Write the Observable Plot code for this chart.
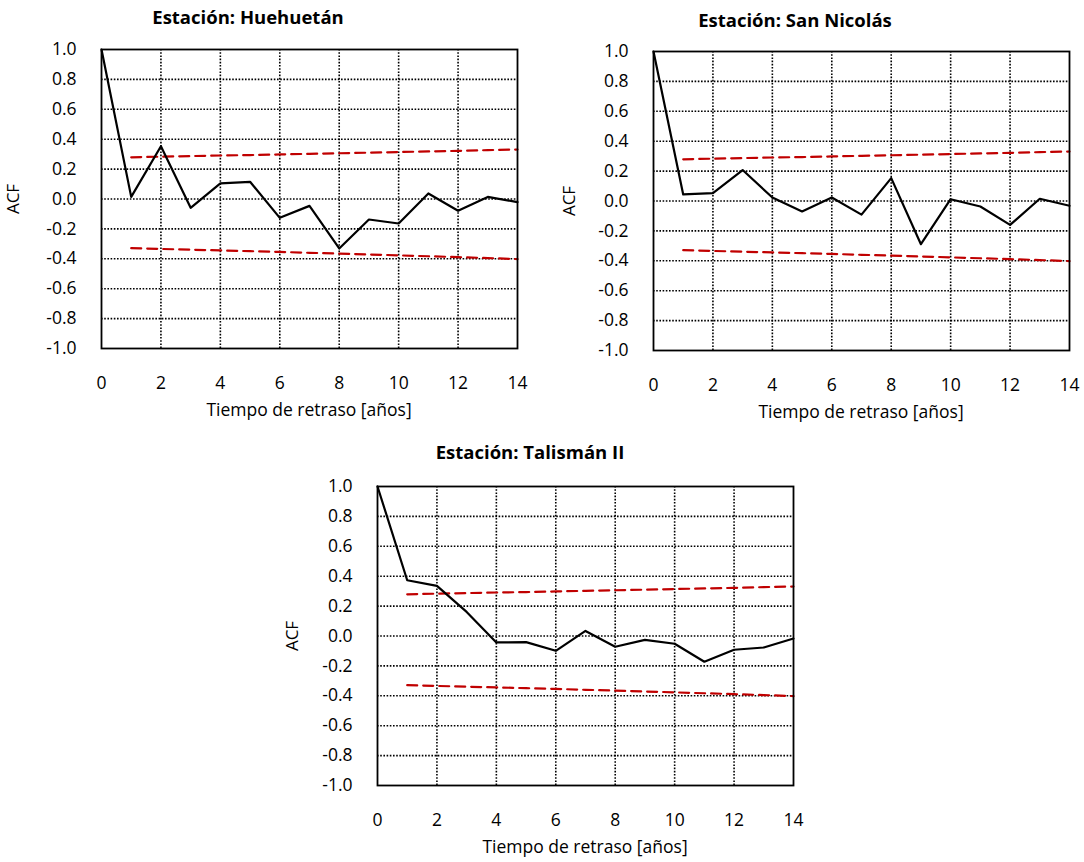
<!DOCTYPE html>
<html>
<head>
<meta charset="utf-8">
<script src="https://cdn.jsdelivr.net/npm/d3@7"></script>
<script src="https://cdn.jsdelivr.net/npm/@observablehq/plot@0.6"></script>
<style>
  body { margin: 0; background: #fff; }
  #wrap { position: relative; width: 1084px; height: 862px; font-family: "Open Sans", Lato, sans-serif; color: #000; }
  .panel { position: absolute; }
  #wrap svg text { font-family: "Open Sans", Lato, sans-serif; fill: #000; }
  .title { position: absolute; font-weight: bold; font-size: 18.5px; transform: translate(-50%, -50%); white-space: nowrap; }
  .xlab { position: absolute; font-size: 17.5px; transform: translate(-50%, -50%); white-space: nowrap; }
  .ylab { position: absolute; font-size: 17px; transform: translate(-50%, -50%) rotate(-90deg); white-space: nowrap; }
</style>
</head>
<body>
<div id="wrap"></div>
<script>
// Lags (years)
const lags = [0,1,2,3,4,5,6,7,8,9,10,11,12,13,14];
// ACF values per station
const acfHuehuetan = [1.0, 0.014, 0.353, -0.059, 0.104, 0.115, -0.126, -0.046, -0.331, -0.137, -0.164, 0.037, -0.079, 0.014, -0.021];
const acfSanNicolas = [1.0, 0.044, 0.053, 0.207, 0.023, -0.070, 0.023, -0.091, 0.153, -0.289, 0.012, -0.037, -0.160, 0.015, -0.032];
const acfTalisman = [1.0, 0.373, 0.335, 0.161, -0.043, -0.041, -0.099, 0.034, -0.072, -0.026, -0.052, -0.172, -0.092, -0.077, -0.017];
// Confidence limits (lags 1..14)
const limitLags = [1,2,3,4,5,6,7,8,9,10,11,12,13,14];
const upperLimit = [0.279, 0.283, 0.287, 0.291, 0.294, 0.298, 0.302, 0.306, 0.310, 0.314, 0.318, 0.322, 0.327, 0.331];
const lowerLimit = [-0.329, -0.334, -0.339, -0.344, -0.349, -0.354, -0.360, -0.365, -0.371, -0.377, -0.383, -0.389, -0.395, -0.402];
// Tick labels
const xTicks = [0,2,4,6,8,10,12,14];
const yTicks = [-1.0,-0.8,-0.6,-0.4,-0.2,0.0,0.2,0.4,0.6,0.8,1.0];

const stations = [
  {title: "Estación: Huehuetán", acf: acfHuehuetan, left: 0, top: 0, plotLeft: 101, titleX: 248, titleY: 16, ylabX: 12},
  {title: "Estación: San Nicolás", acf: acfSanNicolas, left: 544, top: 2, plotLeft: 109, titleX: 795, titleY: 19, ylabX: 568},
  {title: "Estación: Talismán II", acf: acfTalisman, left: 270, top: 437, plotLeft: 107, titleX: 530, titleY: 451, ylabX: 291}
];

const wrap = document.getElementById("wrap");
const W = 540, H = 420, PW = 416, PT = 49, PH = 299;

for (const s of stations) {
  const acfData = lags.map((l, i) => ({lag: l, v: s.acf[i]}));
  const upData = limitLags.map((l, i) => ({lag: l, v: upperLimit[i]}));
  const loData = limitLags.map((l, i) => ({lag: l, v: lowerLimit[i]}));
  const svg = Plot.plot({
    width: W, height: H,
    marginLeft: s.plotLeft, marginRight: W - s.plotLeft - PW,
    marginTop: PT, marginBottom: H - PT - PH,
    style: {fontFamily: "'Open Sans', Lato, sans-serif", fontSize: "17.5px", color: "#000", background: "transparent"},
    x: {domain: [0, 14]},
    y: {domain: [-1, 1]},
    marks: [
      Plot.ruleX(xTicks.filter(t => t > 0 && t < 14), {stroke: "#000", strokeWidth: 1.6, strokeDasharray: "1.6,1.6"}),
      Plot.ruleY(yTicks.filter(t => t > -1 && t < 1), {stroke: "#000", strokeWidth: 1.6, strokeDasharray: "1.6,1.6"}),
      Plot.axisX({ticks: xTicks, tickSize: 0, tickPadding: 28, tickFormat: d => String(d), label: null, fontSize: 17.5}),
      Plot.axisY({ticks: yTicks, tickSize: 0, tickPadding: 25, tickFormat: d => d.toFixed(1), label: null, fontSize: 17.5}),
      Plot.line(upData, {x: "lag", y: "v", stroke: "#c00000", strokeWidth: 2.2, strokeDasharray: "10,6"}),
      Plot.line(loData, {x: "lag", y: "v", stroke: "#c00000", strokeWidth: 2.2, strokeDasharray: "10,6"}),
      Plot.line(acfData, {x: "lag", y: "v", stroke: "#000", strokeWidth: 2.2}),
      Plot.frame({stroke: "#000", strokeWidth: 1.8})
    ]
  });
  svg.classList.add("panel");
  svg.style.left = s.left + "px";
  svg.style.top = s.top + "px";
  wrap.appendChild(svg);

  const t = document.createElement("div");
  t.className = "title"; t.textContent = s.title;
  t.style.left = s.titleX + "px"; t.style.top = s.titleY + "px";
  wrap.appendChild(t);

  const xl = document.createElement("div");
  xl.className = "xlab"; xl.textContent = "Tiempo de retraso [años]";
  xl.style.left = (s.left + s.plotLeft + PW / 2) + "px";
  xl.style.top = (s.top + PT + PH + 61) + "px";
  wrap.appendChild(xl);

  const yl = document.createElement("div");
  yl.className = "ylab"; yl.textContent = "ACF";
  yl.style.left = s.ylabX + "px";
  yl.style.top = (s.top + PT + PH / 2) + "px";
  wrap.appendChild(yl);
}
</script>
</body>
</html>
